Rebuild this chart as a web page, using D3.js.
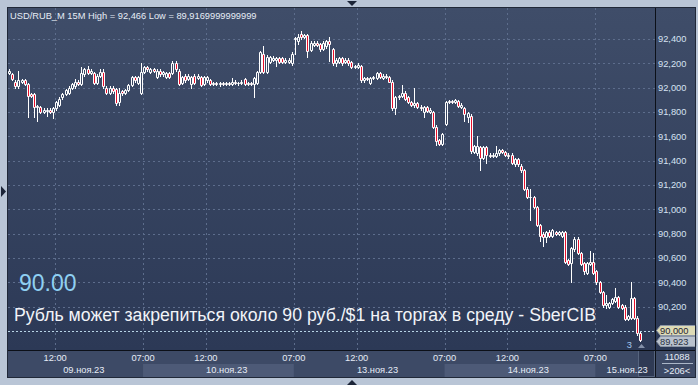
<!DOCTYPE html>
<html>
<head>
<meta charset="utf-8">
<script src="https://cdn.jsdelivr.net/npm/d3@7"></script>
<style>
  body { margin: 0; background: #b9c5d6; }
  svg { display: block; font-family: "Liberation Sans", Arial, sans-serif; }
</style>
</head>
<body>
<div id="chart"></div>
<script>
// 15-minute bars, [open, high, low, close], one array per trading day.
var nov09 = [
  [92.12, 92.15, 92.11, 92.14], [92.11, 92.12, 92.06, 92.07], [92.05, 92.06, 92.00, 92.01], [92.01, 92.14, 92.00, 92.06],
  [92.05, 92.07, 92.04, 92.06], [92.06, 92.07, 92.02, 92.03], [92.03, 92.04, 91.76, 91.93], [91.95, 91.96, 91.92, 91.93],
  [91.95, 91.96, 91.76, 91.84], [91.84, 91.86, 91.73, 91.85], [91.84, 91.85, 91.79, 91.80], [91.80, 91.83, 91.79, 91.82],
  [91.81, 91.83, 91.77, 91.82], [91.82, 91.83, 91.79, 91.80], [91.80, 91.84, 91.75, 91.83], [91.83, 91.89, 91.82, 91.88],
  [91.86, 91.92, 91.85, 91.91], [91.92, 91.96, 91.91, 91.95], [91.95, 91.99, 91.94, 91.98], [91.96, 92.01, 91.95, 92.00],
  [92.00, 92.04, 91.99, 92.03], [92.01, 92.07, 92.00, 92.05], [92.05, 92.06, 92.02, 92.03], [92.03, 92.17, 92.02, 92.12],
  [92.11, 92.16, 92.10, 92.15], [92.15, 92.18, 92.11, 92.12], [92.12, 92.15, 92.11, 92.14], [92.12, 92.13, 92.03, 92.04],
  [92.04, 92.11, 92.03, 92.10], [92.10, 92.15, 92.09, 92.13], [92.13, 92.15, 92.00, 92.01], [92.00, 92.01, 91.95, 91.96],
  [91.96, 92.01, 91.95, 92.00], [92.00, 92.01, 91.96, 91.97], [91.99, 92.00, 91.86, 91.87], [91.88, 92.00, 91.86, 91.96],
  [91.97, 91.98, 91.94, 91.96], [91.96, 91.99, 91.95, 91.98], [91.98, 92.03, 91.97, 92.02], [92.02, 92.10, 92.01, 92.09],
  [92.09, 92.10, 92.05, 92.06], [92.04, 92.10, 92.03, 92.09], [91.96, 92.20, 91.95, 92.13]
];
var nov10 = [
  [92.13, 92.18, 92.12, 92.17], [92.17, 92.18, 92.14, 92.15], [92.13, 92.16, 92.12, 92.15], [92.15, 92.16, 92.13, 92.14],
  [92.09, 92.15, 92.08, 92.14], [92.14, 92.15, 92.10, 92.11], [92.11, 92.14, 92.10, 92.13], [92.09, 92.13, 92.08, 92.12],
  [92.12, 92.13, 92.08, 92.09], [92.12, 92.22, 92.11, 92.20], [92.20, 92.22, 92.14, 92.15], [92.14, 92.15, 92.02, 92.03],
  [92.04, 92.10, 92.03, 92.09], [92.10, 92.11, 92.05, 92.06], [92.07, 92.11, 92.06, 92.10], [92.03, 92.10, 92.00, 92.09],
  [92.10, 92.11, 92.03, 92.04], [92.08, 92.11, 92.07, 92.10], [92.09, 92.10, 92.01, 92.02], [92.03, 92.10, 92.02, 92.09],
  [92.06, 92.10, 92.05, 92.09], [92.06, 92.07, 92.02, 92.03], [92.03, 92.05, 92.02, 92.04], [92.04, 92.05, 92.02, 92.03],
  [92.03, 92.05, 92.01, 92.04], [92.04, 92.05, 92.02, 92.03], [92.03, 92.05, 92.02, 92.04], [92.04, 92.05, 92.02, 92.03],
  [92.03, 92.08, 92.02, 92.05], [92.05, 92.06, 92.03, 92.04], [92.04, 92.05, 92.02, 92.04], [92.04, 92.06, 92.03, 92.05],
  [92.07, 92.08, 92.02, 92.03], [92.03, 92.05, 92.02, 92.04], [92.04, 92.05, 92.02, 92.03], [92.03, 92.09, 91.92, 92.08],
  [92.04, 92.14, 92.03, 92.13], [92.13, 92.30, 92.12, 92.29], [92.28, 92.34, 92.12, 92.13], [92.13, 92.27, 92.12, 92.25],
  [92.21, 92.26, 92.20, 92.25], [92.23, 92.26, 92.22, 92.24], [92.23, 92.25, 92.18, 92.24], [92.24, 92.25, 92.20, 92.21],
  [92.24, 92.25, 92.20, 92.21], [92.21, 92.24, 92.20, 92.23], [92.21, 92.24, 92.20, 92.23], [92.20, 92.29, 92.19, 92.28]
];
var nov13 = [
  [92.40, 92.42, 92.28, 92.41], [92.38, 92.44, 92.36, 92.42], [92.44, 92.466, 92.40, 92.42], [92.42, 92.44, 92.41, 92.43],
  [92.43, 92.44, 92.25, 92.30], [92.31, 92.38, 92.30, 92.37], [92.35, 92.38, 92.34, 92.37], [92.37, 92.38, 92.34, 92.35],
  [92.36, 92.37, 92.30, 92.32], [92.32, 92.38, 92.31, 92.37], [92.34, 92.39, 92.33, 92.38], [92.38, 92.42, 92.22, 92.36],
  [92.32, 92.33, 92.19, 92.20], [92.20, 92.24, 92.18, 92.23], [92.21, 92.25, 92.20, 92.24], [92.24, 92.25, 92.19, 92.20],
  [92.21, 92.24, 92.20, 92.23], [92.23, 92.24, 92.19, 92.20], [92.21, 92.22, 92.16, 92.17], [92.17, 92.19, 92.16, 92.18],
  [92.17, 92.20, 92.16, 92.19], [92.18, 92.19, 92.05, 92.06], [92.06, 92.09, 92.05, 92.08], [92.08, 92.09, 92.06, 92.07],
  [92.04, 92.09, 92.03, 92.08], [92.08, 92.10, 92.07, 92.09], [92.08, 92.13, 92.07, 92.12], [92.12, 92.13, 92.08, 92.09],
  [92.08, 92.11, 92.07, 92.10], [92.10, 92.11, 92.08, 92.09], [92.09, 92.10, 92.05, 92.05], [92.05, 92.06, 91.82, 91.83],
  [91.83, 91.93, 91.78, 91.92], [91.92, 91.94, 91.91, 91.93], [91.93, 92.02, 91.92, 91.96], [91.96, 91.97, 91.90, 91.91],
  [91.92, 91.93, 91.87, 91.88], [91.88, 91.89, 91.85, 91.86], [91.86, 92.00, 91.84, 91.87], [91.87, 91.88, 91.83, 91.84],
  [91.84, 91.86, 91.82, 91.83], [91.80, 91.85, 91.76, 91.84], [91.84, 91.85, 91.80, 91.81], [91.80, 91.83, 91.79, 91.82],
  [91.80, 91.81, 91.67, 91.68], [91.68, 91.69, 91.53, 91.56], [91.57, 91.58, 91.53, 91.54], [91.54, 91.63, 91.53, 91.62]
];
var nov14 = [
  [91.70, 91.89, 91.69, 91.88], [91.88, 91.90, 91.87, 91.89], [91.89, 91.90, 91.87, 91.88], [91.88, 91.91, 91.87, 91.90],
  [91.89, 91.90, 91.84, 91.85], [91.84, 91.87, 91.83, 91.86], [91.83, 91.84, 91.73, 91.78], [91.76, 91.80, 91.72, 91.79],
  [91.77, 91.78, 91.46, 91.48], [91.47, 91.53, 91.46, 91.52], [91.46, 91.60, 91.45, 91.52], [91.51, 91.52, 91.32, 91.42],
  [91.42, 91.52, 91.41, 91.51], [91.51, 91.52, 91.38, 91.45], [91.45, 91.46, 91.43, 91.44], [91.44, 91.46, 91.43, 91.45],
  [91.44, 91.52, 91.43, 91.46], [91.46, 91.50, 91.45, 91.49], [91.49, 91.50, 91.46, 91.47], [91.47, 91.48, 91.44, 91.45],
  [91.45, 91.46, 91.42, 91.44], [91.45, 91.46, 91.37, 91.38], [91.37, 91.42, 91.36, 91.41], [91.41, 91.42, 91.36, 91.37],
  [91.36, 91.37, 91.31, 91.32], [91.32, 91.33, 91.16, 91.17], [91.17, 91.18, 91.09, 91.10], [91.10, 91.17, 90.91, 91.10],
  [91.10, 91.11, 91.01, 91.02], [91.02, 91.03, 90.86, 90.87], [90.87, 90.88, 90.74, 90.78], [90.80, 90.81, 90.70, 90.77],
  [90.77, 90.82, 90.73, 90.81], [90.81, 90.83, 90.77, 90.78], [90.78, 90.84, 90.77, 90.83], [90.81, 90.82, 90.79, 90.80],
  [90.80, 90.82, 90.79, 90.81], [90.78, 90.82, 90.77, 90.81], [90.81, 90.82, 90.56, 90.57], [90.58, 90.59, 90.54, 90.55],
  [90.56, 90.69, 90.40, 90.68], [90.67, 90.77, 90.66, 90.76], [90.76, 90.77, 90.63, 90.64], [90.64, 90.65, 90.54, 90.55],
  [90.56, 90.57, 90.47, 90.49], [90.48, 90.57, 90.47, 90.56], [90.55, 90.66, 90.54, 90.57], [90.57, 90.64, 90.47, 90.48]
];
var nov15 = [
  [90.49, 90.50, 90.39, 90.40], [90.40, 90.41, 90.31, 90.32], [90.32, 90.33, 90.20, 90.21], [90.21, 90.30, 90.19, 90.23],
  [90.20, 90.24, 90.19, 90.23], [90.23, 90.27, 90.22, 90.26], [90.25, 90.35, 90.24, 90.28], [90.28, 90.29, 90.19, 90.20],
  [90.21, 90.22, 90.18, 90.19], [90.20, 90.21, 90.09, 90.10], [90.10, 90.13, 90.09, 90.12], [90.11, 90.40, 90.10, 90.27],
  [90.27, 90.28, 90.10, 90.11], [90.11, 90.12, 89.97, 89.98], [89.98, 89.99, 89.917, 89.923]
];

var dayBars = [nov09, nov10, nov13, nov14, nov15];
var dayLabels = ['09.ноя.23', '10.ноя.23', '13.ноя.23', '14.ноя.23', '15.ноя.23'];
var dayFirstBar = ['08:15', '07:00', '07:00', '07:00', '07:00'];
var timeLabels = ['07:00', '12:00'];
var priceTicks = [90.2, 90.4, 90.6, 90.8, 91.0, 91.2, 91.4, 91.6, 91.8, 92.0, 92.2, 92.4];
var levelPrice = 90.00;
var lastPrice = 89.923;
var bigLabel = '90.00';
var headline = 'Рубль может закрепиться около 90 руб./$1 на торгах в среду - SberCIB';
var title = 'USD/RUB_M 15M High = 92,466 Low = 89,9169999999999';
var visibleSlots = 206;
var volumeText = '11088';
var countText = '>206<';
var markerText = '3';

// Component dimensions.
var WIDTH = 698;
var HEIGHT = 385;
var PLOT_LEFT = 8;
var PLOT_TOP = 8;
var PLOT_RIGHT = 655;
var PLOT_BOTTOM = 350;
var PANEL_RIGHT = 695;
var AXIS_BOTTOM = 377;
var BAR_MINUTES = 15;
var SMALL_FONT = 9.3;

// Palette.
var GRID_COLOR = '#5d6d8c';
var TEXT_COLOR = '#e6ecf6';
var DOWN_COLOR = '#e8102c';

var ruLocale = d3.formatLocale({decimal: ',', thousands: ' ', grouping: [3], currency: ['', '']});
var priceFormat = ruLocale.format('.3f');

function minutes(t) {
  var p = t.split(':');
  return +p[0] * 60 + +p[1];
}

function main() {
  var bars = [];
  var days = [];
  var timeMarks = [];
  dayBars.forEach(function(list, k) {
    var start = bars.length;
    list.forEach(function(d) {
      bars.push({i: bars.length, o: d[0], h: d[1], l: d[2], c: d[3]});
    });
    days.push({label: dayLabels[k], start: start, end: bars.length, k: k});
    timeLabels.forEach(function(t) {
      var n = (minutes(t) - minutes(dayFirstBar[k])) / BAR_MINUTES;
      if (n >= 0 && n < list.length) timeMarks.push({i: start + n, label: t});
    });
  });

  var x = d3.scaleLinear().domain([0, visibleSlots]).range([PLOT_LEFT, PLOT_RIGHT]);
  var y = d3.scaleLinear().domain([90.0, 92.4]).range([331, 39]);

  var svg = d3.select('#chart').append('svg')
    .attr('width', WIDTH)
    .attr('height', HEIGHT);

  var defs = svg.append('defs');
  var grad = defs.append('linearGradient').attr('id', 'plotBg')
    .attr('x1', 0).attr('y1', 0).attr('x2', 0).attr('y2', 1);
  grad.append('stop').attr('offset', '0%').attr('stop-color', '#3f4d69');
  grad.append('stop').attr('offset', '100%').attr('stop-color', '#2c3956');
  defs.append('clipPath').attr('id', 'plotClip').append('rect')
    .attr('x', PLOT_LEFT).attr('y', PLOT_TOP)
    .attr('width', PLOT_RIGHT - PLOT_LEFT).attr('height', PLOT_BOTTOM - PLOT_TOP);

  // Outer frame and small scroll arrows.
  svg.append('rect').attr('width', WIDTH).attr('height', HEIGHT).attr('fill', '#b9c5d6');
  svg.append('path').attr('d', 'M347,1 L357,1 L352,6 Z').attr('fill', '#1c2538');
  svg.append('path').attr('d', 'M347,385 L357,385 L352,380 Z').attr('fill', '#1c2538');
  svg.append('path').attr('d', 'M1,186 L6,191.5 L1,197 Z').attr('fill', '#1c2538');

  // Panels.
  svg.append('rect')
    .attr('x', PLOT_LEFT).attr('y', PLOT_TOP)
    .attr('width', PANEL_RIGHT - PLOT_LEFT).attr('height', PLOT_BOTTOM - PLOT_TOP)
    .attr('fill', 'url(#plotBg)');
  svg.append('rect')
    .attr('x', PLOT_LEFT).attr('y', PLOT_BOTTOM)
    .attr('width', PANEL_RIGHT - PLOT_LEFT).attr('height', AXIS_BOTTOM - PLOT_BOTTOM)
    .attr('fill', '#3d4a66');

  // Date bands in the bottom axis.
  svg.append('g').selectAll('rect')
    .data(days.filter(function(d) { return d.k % 2 == 1; }))
  .enter().append('rect')
    .attr('x', function(d) { return x(d.start); })
    .attr('y', 364)
    .attr('width', function(d) { return x(d.end) - x(d.start); })
    .attr('height', AXIS_BOTTOM - 364)
    .attr('fill', '#4d5a77');

  // Current bar marker in the time axis.
  svg.append('rect')
    .attr('x', Math.floor(x(bars.length - 0.5)) - 1.5).attr('y', PLOT_BOTTOM + 0.5)
    .attr('width', PLOT_RIGHT - Math.floor(x(bars.length - 0.5)) + 1).attr('height', AXIS_BOTTOM - PLOT_BOTTOM - 1)
    .attr('fill', '#2f3a54').attr('stroke', '#56647e');

  // Grid.
  var grid = svg.append('g').attr('class', 'grid')
    .attr('stroke', GRID_COLOR).attr('stroke-dasharray', '2,3').attr('fill', 'none');
  grid.selectAll('.hgrid')
    .data(priceTicks)
  .enter().append('line')
    .attr('x1', PLOT_LEFT).attr('x2', PLOT_RIGHT)
    .attr('y1', function(d) { return Math.round(y(d)) + 0.5; })
    .attr('y2', function(d) { return Math.round(y(d)) + 0.5; });
  grid.selectAll('.vgrid')
    .data(timeMarks)
  .enter().append('line')
    .attr('x1', function(d) { return Math.round(x(d.i)) + 0.5; })
    .attr('x2', function(d) { return Math.round(x(d.i)) + 0.5; })
    .attr('y1', PLOT_TOP).attr('y2', PLOT_BOTTOM);

  // Text overlays under the candles.
  svg.append('text')
    .attr('x', 10).attr('y', 19)
    .attr('fill', TEXT_COLOR).attr('font-size', SMALL_FONT)
    .text(title);
  svg.append('text')
    .attr('x', 19).attr('y', 291)
    .attr('fill', '#8fd0f2').attr('font-size', 23)
    .text(bigLabel);
  svg.append('text')
    .attr('x', 14).attr('y', 321)
    .attr('fill', '#f2f4f8').attr('font-size', 17.5)
    .attr('textLength', 582).attr('lengthAdjust', 'spacingAndGlyphs')
    .text(headline);

  // Level line.
  svg.append('line')
    .attr('x1', PLOT_LEFT).attr('x2', PLOT_RIGHT)
    .attr('y1', Math.round(y(levelPrice)) + 0.5).attr('y2', Math.round(y(levelPrice)) + 0.5)
    .attr('stroke', '#b8d4e6').attr('stroke-dasharray', '2,2');

  // Candles.
  var candles = svg.append('g').attr('clip-path', 'url(#plotClip)');
  function cx(d) { return Math.floor(x(d.i + 0.5)); }
  candles.selectAll('.wick')
    .data(bars)
  .enter().append('path')
    .attr('class', 'wick')
    .attr('stroke', '#fff')
    .attr('d', function(d) {
      var xx = cx(d) + 0.5;
      var top = Math.min(Math.round(y(d.o)), Math.round(y(d.c)));
      var bot = Math.max(Math.round(y(d.o)), Math.round(y(d.c)));
      var yh = Math.round(y(d.h));
      var yl = Math.round(y(d.l));
      var p = '';
      if (yh < top) p += 'M' + xx + ',' + yh + 'V' + top;
      if (yl > bot) p += 'M' + xx + ',' + (bot + 1) + 'V' + (yl + 1);
      return p || 'M0,0';
    });
  candles.selectAll('.body')
    .data(bars)
  .enter().append('path')
    .attr('class', 'body')
    .attr('stroke', '#fff')
    .attr('fill', function(d) { return d.c < d.o ? DOWN_COLOR : 'none'; })
    .attr('d', function(d) {
      var c = cx(d);
      var top = Math.min(Math.round(y(d.o)), Math.round(y(d.c))) + 0.5;
      var bot = Math.max(Math.round(y(d.o)), Math.round(y(d.c))) + 0.5;
      return 'M' + (c - 0.5) + ',' + top + 'H' + (c + 1.5) + 'V' + bot + 'H' + (c - 0.5) + 'Z';
    });

  // Price axis.
  var axis = d3.axisRight(y).tickValues(priceTicks).tickFormat(priceFormat).tickSize(0).tickPadding(3);
  var ax = svg.append('g')
    .attr('transform', 'translate(' + PLOT_RIGHT + ',0)')
    .call(axis);
  ax.select('.domain').remove();
  ax.selectAll('text')
    .attr('fill', '#d6e2f2')
    .attr('font-size', SMALL_FONT)
    .attr('font-family', '"Liberation Sans", Arial, sans-serif');

  // Price tags on the axis.
  function priceTag(value, top, fill, color) {
    var h = 10;
    svg.append('path')
      .attr('d', 'M' + (PLOT_RIGHT + 1.5) + ',' + (top + h / 2 + 0.5) + 'L' + (PLOT_RIGHT + 5.5) + ',' + (top + 0.5) +
        'H' + (PANEL_RIGHT + 1) + 'V' + (top + h + 0.5) + 'H' + (PLOT_RIGHT + 5.5) + 'Z')
      .attr('fill', fill).attr('stroke', '#8c96a6');
    svg.append('text')
      .attr('x', PLOT_RIGHT + 5).attr('y', top + h - 1)
      .attr('fill', color).attr('font-size', SMALL_FONT)
      .text(priceFormat(value));
  }
  priceTag(levelPrice, Math.round(y(levelPrice)) - 6, '#dedbb6', '#1e2430');
  priceTag(lastPrice, Math.round(y(levelPrice)) + 5, '#b9c1cd', '#2a3242');

  // Count marker under the last bars.
  svg.append('text')
    .attr('x', x(bars.length - 5)).attr('y', 348)
    .attr('fill', '#a3c6ee').attr('font-size', SMALL_FONT)
    .text(markerText);
  svg.append('path')
    .attr('d', 'M638,348 L645,348 L641.5,344 Z')
    .attr('fill', '#8390a8');

  // Time axis labels.
  var timeAxis = svg.append('g').attr('fill', TEXT_COLOR).attr('font-size', SMALL_FONT).attr('text-anchor', 'middle');
  timeAxis.selectAll('.time')
    .data(timeMarks)
  .enter().append('text')
    .attr('x', function(d) { return x(d.i); })
    .attr('y', 361)
    .text(function(d) { return d.label; });
  timeAxis.selectAll('.date')
    .data(days)
  .enter().append('text')
    .attr('x', function(d) { return (x(d.start) + Math.min(x(d.end + 4), PLOT_RIGHT)) / 2 + 2; })
    .attr('y', 373)
    .text(function(d) { return d.label; });

  // Bottom right counters.
  svg.append('text')
    .attr('x', 677).attr('y', 360).attr('text-anchor', 'middle')
    .attr('fill', TEXT_COLOR).attr('font-size', SMALL_FONT)
    .text(volumeText);
  svg.append('line')
    .attr('x1', 662).attr('x2', 693).attr('y1', 363.5).attr('y2', 363.5)
    .attr('stroke', '#aab6c8');
  svg.append('text')
    .attr('x', 677).attr('y', 374).attr('text-anchor', 'middle')
    .attr('fill', TEXT_COLOR).attr('font-size', SMALL_FONT)
    .text(countText);

  // Panel borders.
  var borders = svg.append('g').attr('stroke', '#0c1018').attr('fill', 'none');
  borders.append('rect')
    .attr('x', PLOT_LEFT - 0.5).attr('y', PLOT_TOP - 0.5)
    .attr('width', PANEL_RIGHT - PLOT_LEFT + 1).attr('height', AXIS_BOTTOM - PLOT_TOP + 1)
    .attr('stroke', '#202838');
  borders.append('line')
    .attr('x1', PLOT_LEFT).attr('x2', PANEL_RIGHT)
    .attr('y1', PLOT_BOTTOM + 0.5).attr('y2', PLOT_BOTTOM + 0.5);
  borders.append('line')
    .attr('x1', PLOT_RIGHT + 0.5).attr('x2', PLOT_RIGHT + 0.5)
    .attr('y1', PLOT_TOP).attr('y2', AXIS_BOTTOM);
}

main();
</script>
</body>
</html>
